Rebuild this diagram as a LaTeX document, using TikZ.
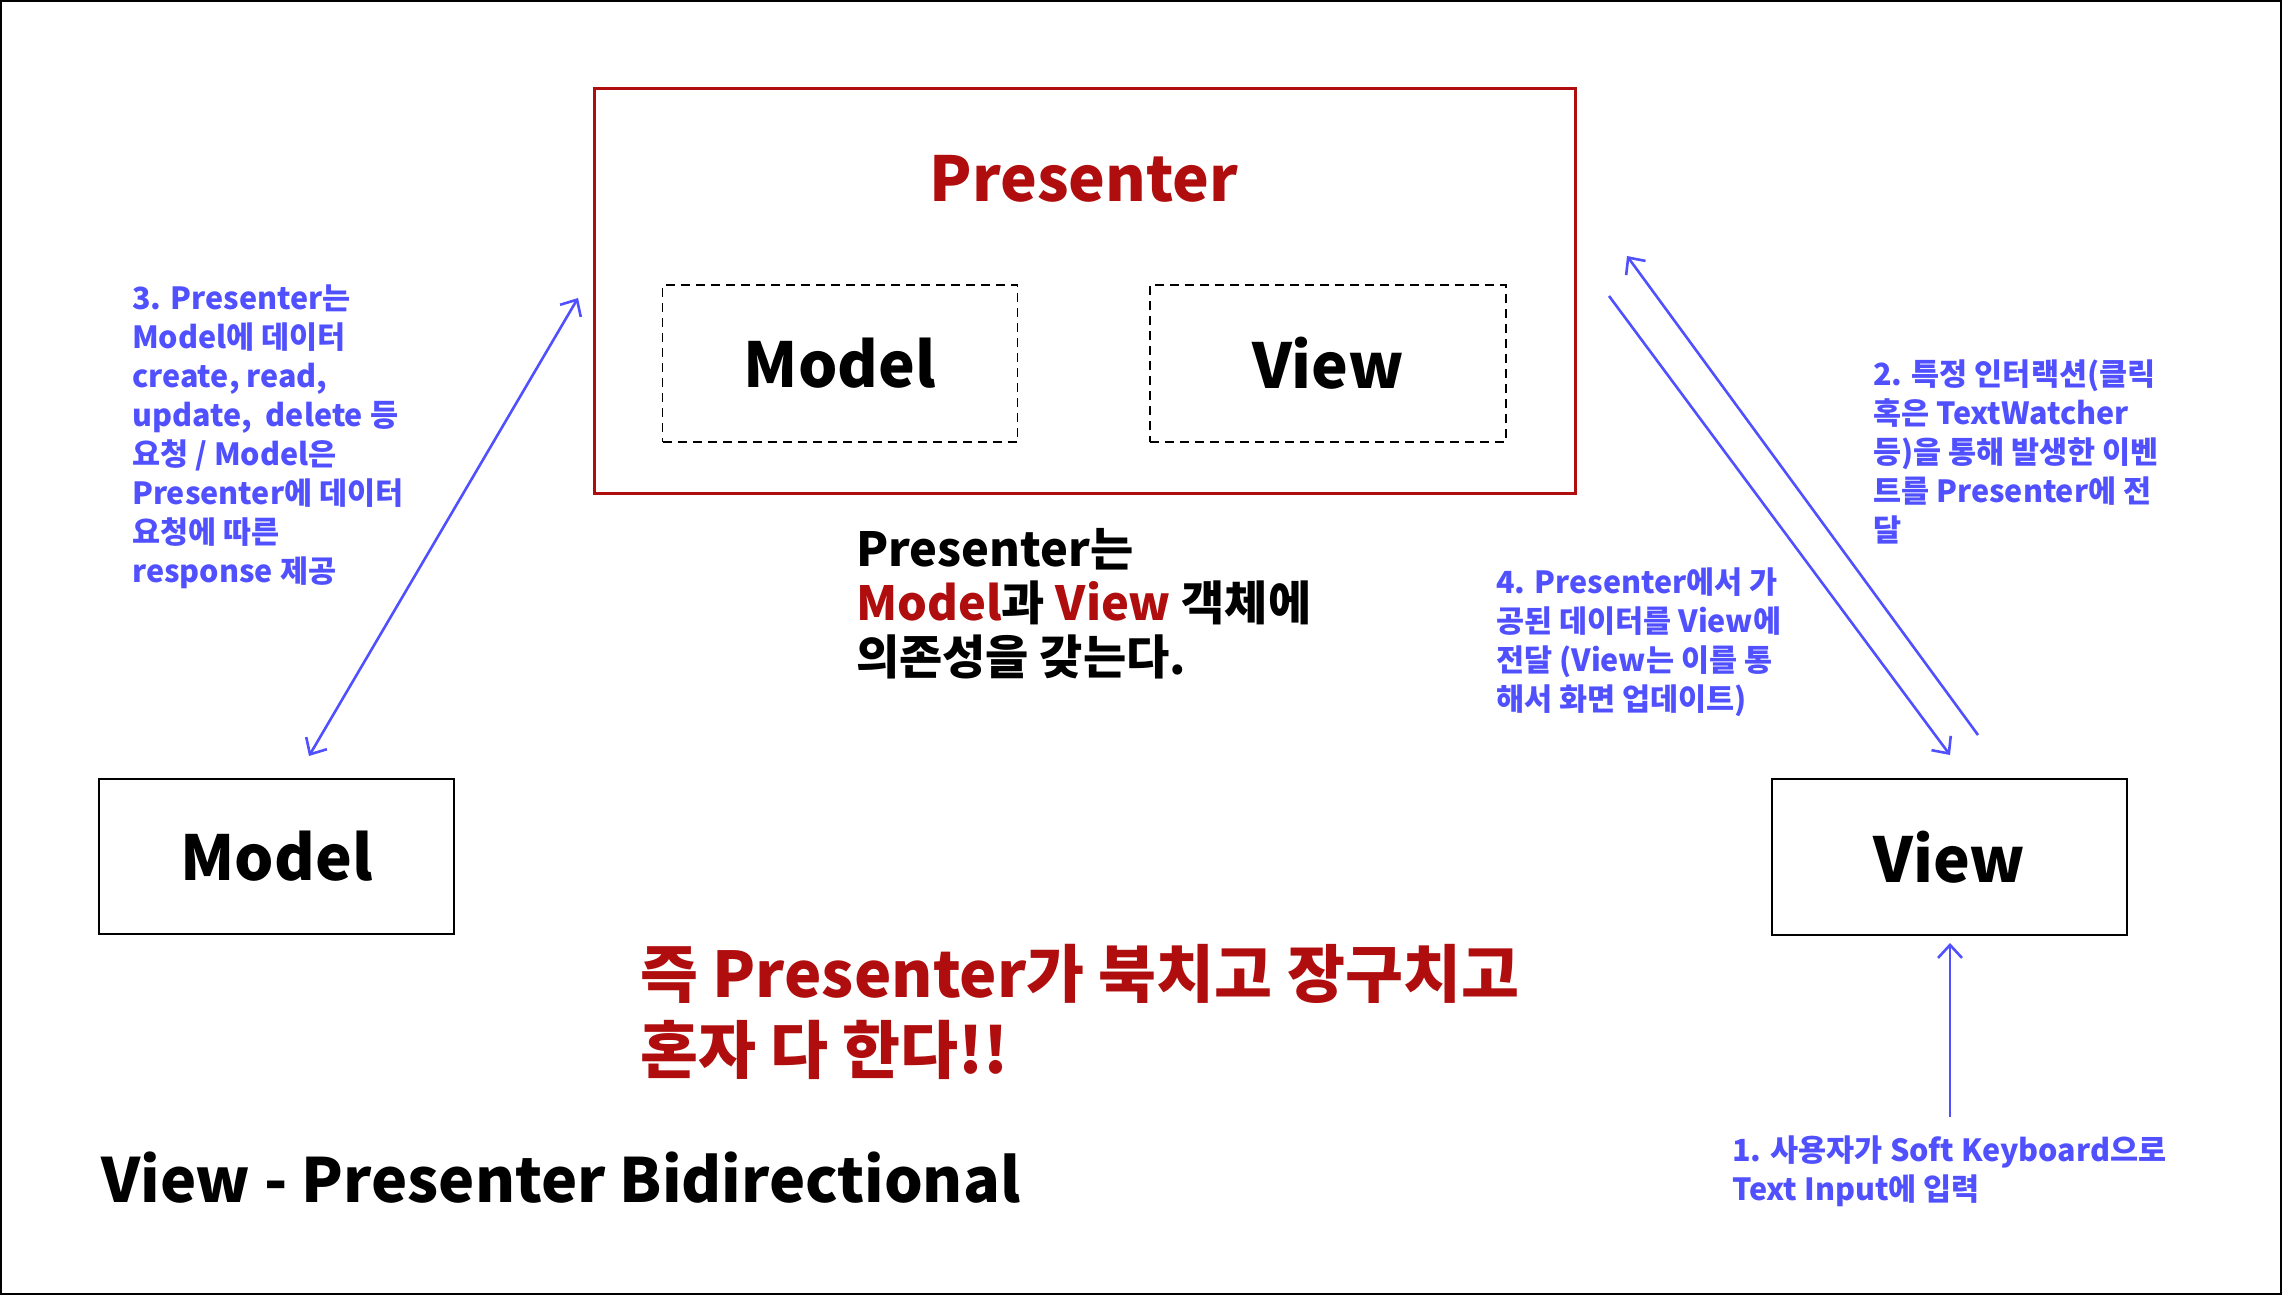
\documentclass[tikz,border=0pt]{standalone}
\usepackage{fontspec}
\setmainfont{Noto Sans CJK KR}
\usetikzlibrary{arrows.meta}
\definecolor{myblue}{RGB}{80,80,255}
\definecolor{myred}{RGB}{176,14,14}
\tikzset{
  solidbox/.style={draw=black, line width=2.5pt, inner sep=0pt, minimum width=355pt, minimum height=155pt, font=\fontsize{62}{70}\selectfont\bfseries},
  dashbox/.style={draw=black, line width=1.8pt, dash pattern=on 9pt off 6pt, inner sep=0pt, minimum width=355pt, minimum height=157pt, font=\fontsize{62}{70}\selectfont\bfseries},
  bluenote/.style={text=myblue, align=left, anchor=north west, inner sep=0pt, font=\fontsize{30.5}{39}\selectfont\bfseries},
  barb/.style={Straight Barb[length=13pt,width=24pt,line width=2.6pt]},
  bluearrow/.style={draw=myblue, line width=2.6pt, -{Straight Barb[length=13pt,width=24pt,line width=2.6pt]}},
}
\begin{document}
\begin{tikzpicture}[x=1pt,y=-1pt]
\useasboundingbox (0,0) rectangle (2282,1295);
\draw[line width=2pt] (1,1) rectangle (2281,1294);

% Presenter container
\node[draw=myred, line width=3pt, inner sep=0pt, minimum width=981pt, minimum height=404pt] (presenter) at (1084.5,291) {};
\node[text=myred, anchor=base, inner sep=0pt, font=\fontsize{62}{70}\selectfont\bfseries] (ptitle) at (1084,201) {Presenter};
\node[dashbox] (innermodel) at (840,363.5) {Model};
\node[dashbox, minimum width=356pt] (innerview) at (1328,363.5) {View};

% Outer boxes
\node[solidbox] (model) at (276.5,856.5) {Model};
\node[solidbox, minimum height=156pt] (view) at (1949.5,857) {View};

% arrow end points
\coordinate (a3top) at (578,298);
\coordinate (a3bot) at (309,756);
\coordinate (a2s) at (1978,735);
\coordinate (a2e) at (1627,256);
\coordinate (a4s) at (1609,296);
\coordinate (a4e) at (1950,755);
\coordinate (a1s) at (1950,1117);
\coordinate (a1e) at (1950,943);

\draw[draw=myblue, line width=2.6pt, {Straight Barb[length=13pt,width=24pt,line width=2.6pt]}-{Straight Barb[length=13pt,width=24pt,line width=2.6pt]}] (a3bot) -- (a3top);
\draw[bluearrow] (a2s) -- (a2e);
\draw[bluearrow] (a4s) -- (a4e);
\draw[bluearrow] (a1s) -- (a1e);

% notes
\node[bluenote] (note3) at (132,285) {3. Presenter는\\Model에 데이터\\create, read,\\update,~ delete 등\\요청 / Model은\\Presenter에 데이터\\요청에 따른\\response 제공};
\node[bluenote] (note2) at (1873,360) {2. 특정 인터랙션(클릭\\혹은 TextWatcher\\등)을 통해 발생한 이벤\\트를 Presenter에 전\\달};
\node[bluenote] (note4) at (1496,568) {4. Presenter에서 가\\공된 데이터를 View에\\전달 (View는 이를 통\\해서 화면 업데이트)};
\node[bluenote] (note1) at (1732,1136) {1. 사용자가 Soft Keyboard으로\\Text Input에 입력};

% center text
\node[align=left, anchor=north west, inner sep=0pt, font=\fontsize{47}{54}\selectfont\bfseries] (dep) at (856,528) {Presenter는\\\textcolor{myred}{Model}과 \textcolor{myred}{View} 객체에\\의존성을 갖는다.};

\node[text=myred, align=left, anchor=north west, inner sep=0pt, font=\fontsize{63}{76}\selectfont\bfseries] (concl) at (640,944) {즉 Presenter가 북치고 장구치고\\혼자 다 한다!!};

\node[anchor=base west, inner sep=0pt, font=\fontsize{61}{70}\selectfont\bfseries] (title) at (101,1202) {View - Presenter Bidirectional};
\end{tikzpicture}
\end{document}
